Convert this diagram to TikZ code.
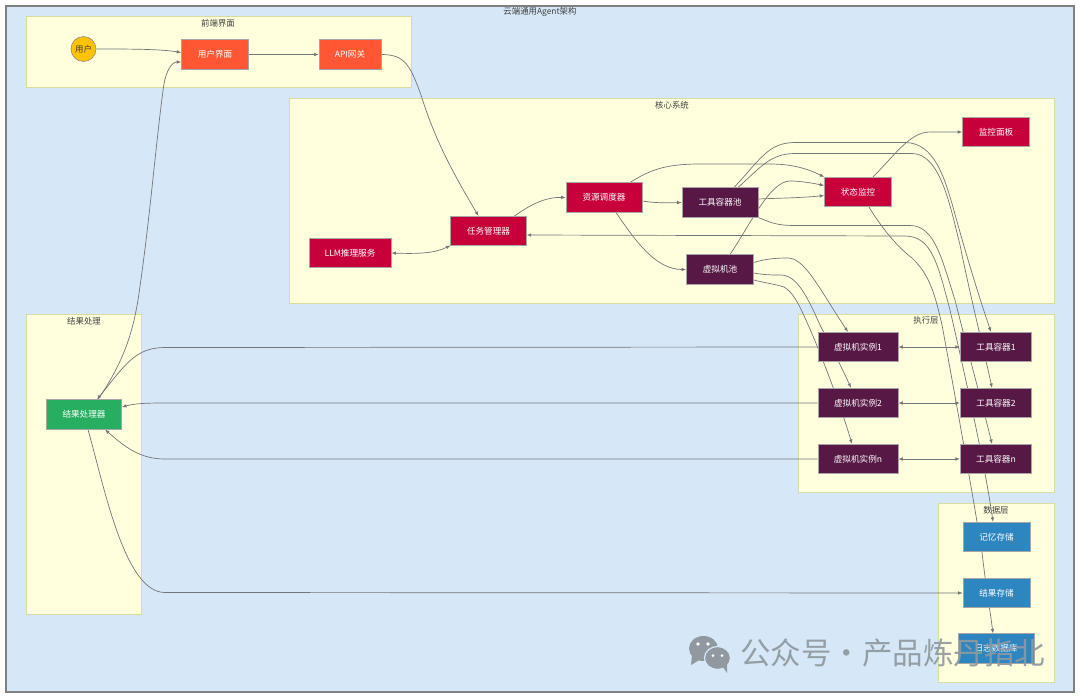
\documentclass[tikz,border=0pt]{standalone}
\usepackage{fontspec}
\setmainfont{Noto Sans CJK SC}
\usetikzlibrary{arrows.meta}
\pgfdeclarelayer{groups}
\pgfdeclarelayer{edges}
\pgfsetlayers{groups,edges,main}
\definecolor{canvasblue}{HTML}{D6E8F7}
\definecolor{groupyellow}{HTML}{FFFFDE}
\definecolor{groupline}{HTML}{DADDA0}
\definecolor{frontorange}{HTML}{FF5733}
\definecolor{corecrimson}{HTML}{C70039}
\definecolor{execplum}{HTML}{581845}
\definecolor{storeblue}{HTML}{2E86C1}
\definecolor{resultgreen}{HTML}{27AE60}
\definecolor{useryellow}{HTML}{FFC300}
\definecolor{flowgray}{HTML}{737678}
\definecolor{markgray}{HTML}{8F999F}
\tikzset{
    groupbox/.style={draw=groupline, line width=0.8pt, fill=groupyellow, minimum height=20pt, inner sep=0pt},
    grouptitle/.style={text=black!75, font=\fontsize{8.4}{10}\selectfont, inner sep=0pt},
    svcbox/.style={draw=black!35, line width=0.6pt, minimum height=29.5pt, inner sep=0pt, text=white, font=\fontsize{8.6}{10}\selectfont},
    frontbox/.style={svcbox, fill=frontorange, minimum width=67pt},
    corebox/.style={svcbox, fill=corecrimson, minimum width=67pt},
    execbox/.style={svcbox, fill=execplum, minimum width=76pt},
    storebox/.style={svcbox, fill=storeblue, minimum width=67pt},
    flow/.style={draw=flowgray, line width=0.7pt, -{Latex[length=4.5pt,width=3.5pt]}},
    twoway/.style={flow, {Latex[length=4.5pt,width=3.5pt]}-{Latex[length=4.5pt,width=3.5pt]}},
}
\begin{document}
\begin{tikzpicture}[x=1pt, y=-1pt]
    \useasboundingbox (0,0) rectangle (1080,697);
    \begin{pgfonlayer}{groups}
        \draw[black!50, line width=1.2pt, fill=canvasblue] (6,6) rectangle (1074,692);
        \node[groupbox, minimum width=385pt, minimum height=71.5pt] (frontgroup) at (218.5,51.75) {};
        \node[groupbox, minimum width=765pt, minimum height=205pt] (coregroup) at (671.5,200.5) {};
        \node[groupbox, minimum width=115.5pt, minimum height=300pt] (resultgroup) at (83.75,464.5) {};
        \node[groupbox, minimum width=256pt, minimum height=178pt] (execgroup) at (926,403) {};
        \node[groupbox, minimum width=116pt, minimum height=179pt] (datagroup) at (996,592.5) {};
    \end{pgfonlayer}
    \node[grouptitle] (maintitle) at (540,12) {云端通用Agent架构};
    \node[grouptitle] (fronttitle) at (218,23) {前端界面};
    \node[grouptitle] (coretitle) at (672,105) {核心系统};
    \node[grouptitle] (resulttitle) at (84,321) {结果处理};
    \node[grouptitle] (exectitle) at (926,320) {执行层};
    \node[grouptitle] (datatitle) at (996,510) {数据层};

    \node[circle, draw=black!45, line width=0.6pt, fill=useryellow, minimum size=25pt, inner sep=0pt, text=black!75, font=\fontsize{8.4}{10}\selectfont] (user) at (83.5,49) {用户};
    \node[frontbox] (webui) at (215,54.5) {用户界面};
    \node[frontbox, minimum width=62pt] (gateway) at (350,54.5) {API网关};

    \node[corebox, minimum width=75.5pt] (taskmgr) at (488.5,231) {任务管理器};
    \node[corebox, minimum width=82pt] (llm) at (350,253) {LLM推理服务};
    \node[corebox, minimum width=76pt] (scheduler) at (604,197.5) {资源调度器};
    \node[execbox] (toolpool) at (720,202.5) {工具容器池};
    \node[execbox, minimum width=67pt] (vmpool) at (720,269.5) {虚拟机池};
    \node[corebox] (monitor) at (858,192) {状态监控};
    \node[corebox] (dashboard) at (996,132) {监控面板};

    \node[execbox, minimum width=80pt] (vm1) at (858,347) {虚拟机实例1};
    \node[execbox, minimum width=80pt] (vm2) at (858,403) {虚拟机实例2};
    \node[execbox, minimum width=80pt] (vmn) at (858,459) {虚拟机实例n};
    \node[execbox, minimum width=71.5pt] (tool1) at (996,347) {工具容器1};
    \node[execbox, minimum width=71.5pt] (tool2) at (996,403) {工具容器2};
    \node[execbox, minimum width=71.5pt] (tooln) at (996,459) {工具容器n};

    \node[svcbox, fill=resultgreen, minimum width=75.5pt] (resultproc) at (84,414.5) {结果处理器};
    \node[storebox] (memstore) at (996.5,537) {记忆存储};
    \node[storebox] (resultstore) at (996.5,593) {结果存储};
    \node[storebox, minimum width=76pt] (logdb) at (996,648.5) {日志数据库};

    \begin{pgfonlayer}{edges}
        \draw[flow] (user.east) .. controls (130,49) and (160,49) .. ([yshift=2pt]webui.west);
        \draw[flow] (webui.east) -- (gateway.west);
        \draw[flow] (gateway.east) .. controls (405,54.5) and (410,65) .. (421,95) .. controls (432,130) and (445,160) .. ([xshift=-10pt]taskmgr.north);
        \draw[twoway] (llm.east) .. controls (420,254) and (435,253) .. ([yshift=-14.5pt]taskmgr.west);
        \draw[flow] ([xshift=26pt]taskmgr.north) .. controls (530,205) and (545,197) .. (scheduler.west);
        \draw[flow] ([yshift=-3.5pt]scheduler.east) .. controls (655,203) and (665,203) .. (toolpool.west);
        \draw[flow] ([xshift=12pt]scheduler.south) .. controls (635,240) and (655,269.5) .. (vmpool.west);
        \draw[flow] ([xshift=26pt]scheduler.north) .. controls (650,170) and (665,164) .. (700,164) -- (770,164) .. controls (795,164) and (810,170) .. (monitor.north west);
        \draw[flow] ([yshift=3.5pt]toolpool.east) .. controls (780,198) and (800,198) .. ([yshift=-3.5pt]monitor.west);
        \draw[flow] ([xshift=10pt]vmpool.north) .. controls (750,225) and (770,181) .. (790,181) .. controls (800,181) and (812,183) .. ([yshift=6.5pt]monitor.west);
        \draw[flow] ([xshift=15pt]monitor.north) .. controls (895,155) and (910,132) .. (930,132) -- (dashboard.west);

        \draw[flow] ([xshift=14pt]toolpool.north) .. controls (760,160) and (768,142.5) .. (795,142.5) -- (905,142.5) .. controls (935,142.5) and (945,180) .. (953,207) .. controls (962,240) and (975,285) .. ([xshift=-5pt]tool1.north);
        \draw[flow] ([xshift=18pt]toolpool.north) .. controls (760,168) and (770,153.5) .. (795,153.5) -- (912,153.5) .. controls (940,153.5) and (950,205) .. (960,245) .. controls (970,295) and (985,355) .. ([xshift=-4pt]tool2.north);
        \draw[flow] (toolpool.south east) .. controls (770,222) and (775,225.5) .. (795,225.5) -- (910,225.5) .. controls (935,225.5) and (942,260) .. (955,300) .. controls (965,340) and (985,415) .. ([xshift=-4pt]tooln.north);
        \draw[twoway] ([yshift=-4pt]taskmgr.east) -- (905,236) .. controls (932,236) and (938,265) .. (950,310) .. controls (965,375) and (985,465) .. ([xshift=-3.5pt]memstore.north);
        \draw[flow] ([xshift=11pt]monitor.south) .. controls (880,225) and (895,245) .. (912,258) .. controls (930,275) and (935,295) .. (942,325) .. controls (955,395) and (972,490) .. (982,552) .. controls (985,580) and (990,610) .. ([xshift=-3pt]logdb.north);

        \draw[flow] ([yshift=7pt]vmpool.east) .. controls (765,259) and (775,258) .. (788,258) .. controls (805,258) and (820,290) .. ([xshift=-10pt]vm1.north);
        \draw[flow] ([yshift=-3.5pt]vmpool.east) .. controls (765,275) and (772,275) .. (781,275) .. controls (797,275) and (808,298) .. (820,325) .. controls (830,345) and (843,370) .. ([xshift=-7pt]vm2.north);
        \draw[flow] ([yshift=-10.5pt]vmpool.east) .. controls (765,283) and (775,284) .. (784,287) .. controls (792,292) and (797,300) .. (805,318) .. controls (820,350) and (842,410) .. ([xshift=-6pt]vmn.north);

        \draw[twoway] (vm1.east) -- (tool1.west);
        \draw[twoway] (vm2.east) -- (tool2.west);
        \draw[twoway] (vmn.east) -- (tooln.west);

        \draw[flow] (vm1.west) -- (165,347.5) .. controls (135,347.5) and (125,365) .. ([xshift=13pt]resultproc.north);
        \draw[flow] (vm2.west) -- (165,403) .. controls (145,403) and (135,403.5) .. ([yshift=7.5pt]resultproc.east);
        \draw[flow] (vmn.west) -- (165,459) .. controls (140,459) and (125,447) .. ([xshift=21pt]resultproc.south);
        \draw[flow] ([xshift=14pt]resultproc.north) .. controls (125,360) and (133,330) .. (138,300) .. controls (150,220) and (155,150) .. (163.5,87) .. controls (166,70) and (172,62) .. ([yshift=-7.5pt]webui.west);
        \draw[flow] ([xshift=4pt]resultproc.south) .. controls (105,490) and (125,592.5) .. (165,592.5) -- (resultstore.west);
    \end{pgfonlayer}

    \fill[markgray] (703.5,648.5) ellipse (14.5 and 12.5);
    \fill[markgray] (692,655) -- (691,665) -- (701,659) -- cycle;
    \draw[canvasblue, line width=1.2pt, fill=markgray] (717.5,658) ellipse (13 and 11.5);
    \fill[markgray] (723,667) -- (727,673) -- (727,664) -- cycle;
    \foreach \ex/\ey/\er in {698/644/1.8, 708/644/1.8, 713/655.5/1.5, 722/655.5/1.5}
        \fill[white] (\ex,\ey) circle (\er);
    \node[inner sep=0pt, text=markgray, font=\fontsize{30.5}{32}\selectfont, opacity=0.92] (watermark) at (892.5,653) {公众号·产品炼丹指北};
\end{tikzpicture}
\end{document}
